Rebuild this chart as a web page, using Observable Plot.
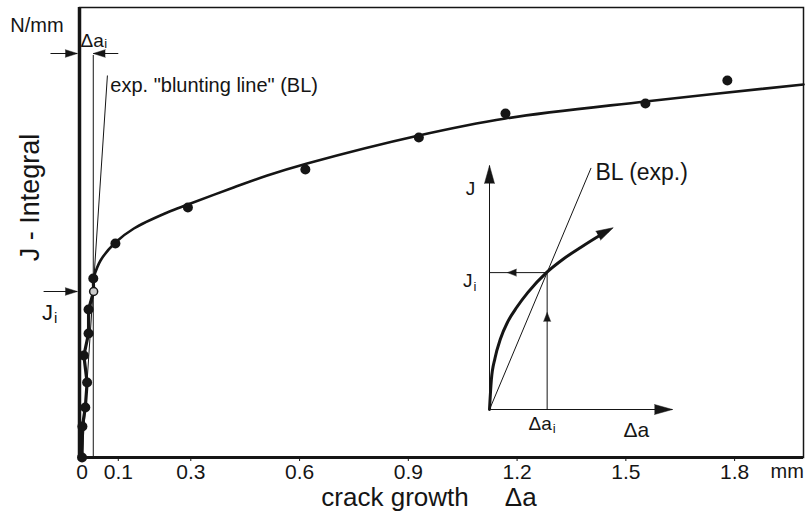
<!DOCTYPE html>
<html>
<head>
<meta charset="utf-8">
<script src="https://cdn.jsdelivr.net/npm/d3@7"></script>
<script src="https://cdn.jsdelivr.net/npm/@observablehq/plot@0.6"></script>
<style>
  body { margin: 0; background: #fff; }
  #wrap { position: relative; width: 805px; height: 520px; }
  #inset { position: absolute; left: 440px; top: 150px; }
</style>
</head>
<body>
<div id="wrap"><div id="main"></div><div id="inset"></div></div>
<script>
// ---------- data (crack growth in mm, J in arbitrary N/mm units) ----------
const xTicks      = [0, 0.1, 0.3, 0.6, 0.9, 1.2, 1.5, 1.8];
const xTickLabels = ["0", "0.1", "0.3", "0.6", "0.9", "1.2", "1.5", "1.8"];

// measured points (filled dots)
const pointDa = [0, 0.001, 0.009, 0.014, 0.005, 0.018, 0.018, 0.031, 0.092, 0.292, 0.616, 0.929, 1.168, 1.554, 1.780];
const pointJ  = [0, 31, 50, 75, 102, 124, 148, 179, 214, 250, 288, 320, 344, 354, 377];

// initiation point (open circle): delta a_i and J_i
const daI = 0.031;
const jI  = 166;

// path through the first points (in order of loading)
const bluntDa = [0, 0.001, 0.009, 0.014, 0.005, 0.018, 0.018, 0.032, 0.031];
const bluntJ  = [0, 31, 50, 75, 102, 124, 148, 166, 179];

// fitted R-curve
const fitDa = [0.031, 0.051, 0.092, 0.143, 0.235, 0.292, 0.418, 0.511, 0.621, 0.929, 1.168, 1.554, 1.99];
const fitJ  = [179, 197, 215, 229, 245, 253, 270, 282, 294, 322, 339, 356, 373];

// experimental blunting line
const blLineDa = [0, 0.070];
const blLineJ  = [0, 382];

// inset schematic (normalised units)
const insetCurveU = [0, 0.01, 0.03, 0.06, 0.10, 0.15, 0.21, 0.311, 0.40, 0.50, 0.60, 0.676];
const insetCurveV = [0, 0.12, 0.21, 0.29, 0.36, 0.42, 0.48, 0.561, 0.615, 0.665, 0.712, 0.745];
const insetDaI = 0.315;
const insetJI  = 0.561;
const insetBLU = [0, 0.555];
const insetBLV = [0, 0.99];

const FONT = "Liberation Sans, Arial, Helvetica, sans-serif";
const INK = "#151515";

const points = pointDa.map((d, i) => ({x: d, y: pointJ[i]}));
const blunt = bluntDa.map((d, i) => ({x: d, y: bluntJ[i]}));
const fit = fitDa.map((d, i) => ({x: d, y: fitJ[i]}));
const xMin = -0.007, xMax = 1.99;

// arrow shafts and heads of the main chart (data units)
const mainLinks = [
  {x1: -0.087, y1: 404, x2: -0.013, y2: 404},
  {x1: 0.100, y1: 404, x2: daI, y2: 404},
  {x1: -0.106, y1: jI, x2: -0.013, y2: jI}
];
const mainHeads = [
  {x: -0.013, y: 404, r: 90},
  {x: daI, y: 404, r: -90},
  {x: -0.013, y: jI, r: 90}
];

const main = Plot.plot({
  width: 805, height: 520,
  marginLeft: 79, marginRight: 2, marginTop: 7, marginBottom: 63,
  style: {fontFamily: FONT, fontSize: "20px", color: INK, background: "white", overflow: "visible"},
  x: {domain: [xMin, xMax]},
  y: {domain: [0, 450], axis: null},
  marks: [
    Plot.frame({stroke: INK, strokeWidth: 1.5}),
    Plot.axisX(xTicks, {tickFormat: d => xTickLabels[xTicks.indexOf(d)], tickSize: 4, tickPadding: 3, fontSize: 21, label: null, stroke: INK}),
    Plot.ruleX([daI], {y1: 0, y2: 402, stroke: INK, strokeWidth: 1}),
    Plot.link([{x1: blLineDa[0], y1: blLineJ[0], x2: blLineDa[1], y2: blLineJ[1]}], {x1: "x1", y1: "y1", x2: "x2", y2: "y2", stroke: INK, strokeWidth: 1}),
    Plot.link(mainLinks, {x1: "x1", y1: "y1", x2: "x2", y2: "y2", stroke: INK, strokeWidth: 1}),
    Plot.vector(mainHeads, {x: "x", y: "y", rotate: "r", length: 12, r: 3.8, shape: "spike", anchor: "end", fill: INK, stroke: INK, strokeWidth: 0.5}),
    Plot.line(blunt, {x: "x", y: "y", stroke: INK, strokeWidth: 3.2}),
    Plot.line(fit, {x: "x", y: "y", stroke: INK, strokeWidth: 2.6, curve: "catmull-rom"}),
    Plot.dot(points, {x: "x", y: "y", r: 5, fill: INK}),
    Plot.dot([{x: daI + 0.001, y: jI}], {x: "x", y: "y", r: 4, fill: "#ccc", stroke: INK, strokeWidth: 1.5}),
    Plot.ruleX([xMin], {stroke: INK, strokeWidth: 3.5}),
    Plot.ruleY([0], {stroke: INK, strokeWidth: 3}),
    Plot.text(["N/mm"], {x: -0.051, y: 432, textAnchor: "end", lineAnchor: "middle", fontSize: 20}),
    Plot.text(["Δa"], {x: -0.004, y: 417, textAnchor: "start", lineAnchor: "middle", fontSize: 19}),
    Plot.text(["i"], {x: 0.061, y: 414, textAnchor: "start", lineAnchor: "middle", fontSize: 13}),
    Plot.text(['exp. "blunting line" (BL)'], {x: 0.078, y: 372, textAnchor: "start", lineAnchor: "middle", fontSize: 20}),
    Plot.text(["J - Integral"], {x: -0.142, y: 260, rotate: -90, textAnchor: "middle", lineAnchor: "middle", fontSize: 27}),
    Plot.text(["J"], {x: -0.080, y: 145, textAnchor: "end", lineAnchor: "middle", fontSize: 22}),
    Plot.text(["i"], {x: -0.077, y: 139, textAnchor: "start", lineAnchor: "middle", fontSize: 15}),
    Plot.text(["mm"], {x: 1.899, y: -14, textAnchor: "start", lineAnchor: "middle", fontSize: 20}),
    Plot.text(["crack growth\u00a0\u00a0\u00a0\u00a0\u00a0Δa"], {x: 0.957, y: -40, textAnchor: "middle", lineAnchor: "middle", fontSize: 26})
  ]
});
document.getElementById("main").append(main);

// ---------- inset ----------
const insetCurve = insetCurveU.map((u, i) => ({x: u, y: insetCurveV[i]}));
const n = insetCurve.length;
const tip = insetCurve[n - 1];
const inset = Plot.plot({
  width: 280, height: 300,
  marginLeft: 49, marginRight: 48, marginTop: 15, marginBottom: 41,
  style: {fontFamily: FONT, color: INK, background: "transparent", overflow: "visible"},
  x: {domain: [0, 1], axis: null},
  y: {domain: [0, 1], axis: null},
  marks: [
    Plot.link([{x1: 0, y1: 0, x2: 1, y2: 0}, {x1: 0, y1: 0, x2: 0, y2: 1}], {x1: "x1", y1: "y1", x2: "x2", y2: "y2", stroke: INK, strokeWidth: 1}),
    Plot.vector([{x: 1, y: 0, r: 90}, {x: 0, y: 1, r: 0}], {x: "x", y: "y", rotate: "r", length: 18, r: 5, shape: "spike", anchor: "end", fill: INK, stroke: INK, strokeWidth: 0.5}),
    Plot.link([{x1: insetBLU[0], y1: insetBLV[0], x2: insetBLU[1], y2: insetBLV[1]}], {x1: "x1", y1: "y1", x2: "x2", y2: "y2", stroke: INK, strokeWidth: 1}),
    Plot.link([{x1: insetDaI, y1: insetJI, x2: 0, y2: insetJI}, {x1: insetDaI, y1: 0, x2: insetDaI, y2: insetJI}], {x1: "x1", y1: "y1", x2: "x2", y2: "y2", stroke: INK, strokeWidth: 1}),
    Plot.vector([{x: 0.098, y: insetJI, r: -90}, {x: insetDaI, y: 0.398, r: 0}], {x: "x", y: "y", rotate: "r", length: 9, r: 3.5, shape: "spike", anchor: "end", fill: INK, stroke: INK, strokeWidth: 0.5}),
    Plot.line(insetCurve.slice(0, n - 1).concat([{x: tip.x - 0.03, y: tip.y - 0.013}]), {x: "x", y: "y", stroke: INK, strokeWidth: 3, curve: "monotone-x"}),
    Plot.vector([{x: tip.x, y: tip.y, r: 62}], {x: "x", y: "y", rotate: "r", length: 17, r: 5, shape: "spike", anchor: "end", fill: INK, stroke: INK, strokeWidth: 0.5}),
    Plot.text(["J"], {x: -0.104, y: 0.906, textAnchor: "middle", lineAnchor: "middle", fontSize: 19}),
    Plot.text(["J"], {x: -0.093, y: 0.529, textAnchor: "end", lineAnchor: "middle", fontSize: 19}),
    Plot.text(["i"], {x: -0.088, y: 0.503, textAnchor: "start", lineAnchor: "middle", fontSize: 13}),
    Plot.text(["Δa"], {x: 0.213, y: -0.057, textAnchor: "start", lineAnchor: "middle", fontSize: 19}),
    Plot.text(["i"], {x: 0.345, y: -0.080, textAnchor: "start", lineAnchor: "middle", fontSize: 13}),
    Plot.text(["Δa"], {x: 0.732, y: -0.086, textAnchor: "start", lineAnchor: "middle", fontSize: 21}),
    Plot.text(["BL (exp.)"], {x: 0.579, y: 0.971, textAnchor: "start", lineAnchor: "middle", fontSize: 23})
  ]
});
document.getElementById("inset").append(inset);
</script>
</body>
</html>
